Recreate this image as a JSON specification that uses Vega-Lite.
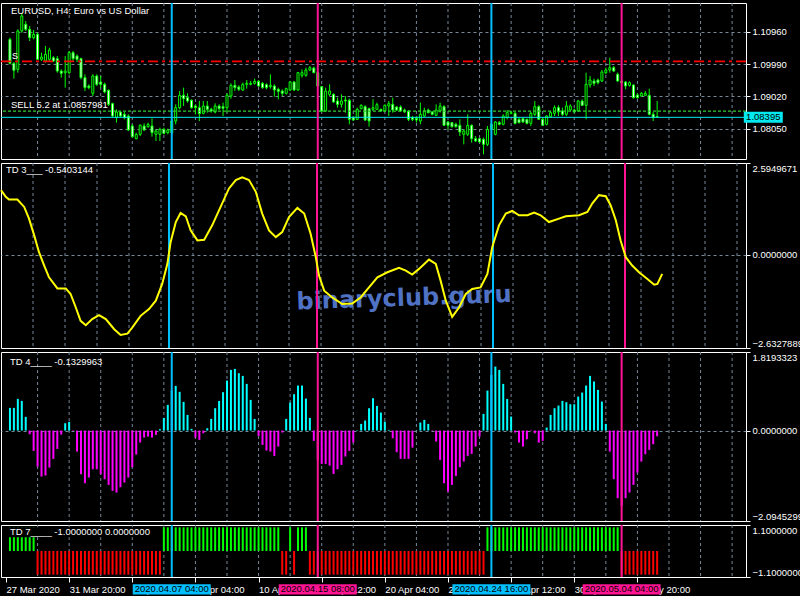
{
"$schema":"https://vega.github.io/schema/vega-lite/v6.json",
"background":"black",
"padding":{"left":-4,"top":1,"right":0,"bottom":0},
"autosize":{"type":"pad"},
"spacing":0,
"config":{
 "concat":{"spacing":0},
 "view":{"stroke":"white","strokeWidth":1},
 "axis":{"labelColor":"white","labelFont":"Liberation Sans","labelFontSize":9.5,"tickColor":"white","gridColor":"#778899","gridDash":[3,3],"gridWidth":1,"domain":false,"zindex":0,"labelOverlap":false,"minExtent":0}
},
"resolve":{"scale":{"x":"independent","y":"independent"},"axis":{"x":"independent","y":"independent"}},
"datasets":{
"grid":[{"g":8},{"g":16},{"g":24},{"g":32},{"g":40},{"g":48},{"g":56},{"g":64},{"g":72},{"g":80},{"g":88},{"g":96},{"g":104},{"g":112},{"g":120},{"g":128},{"g":136},{"g":144},{"g":152},{"g":160},{"g":168},{"g":176},{"g":184}],
"events":[{"i":42,"t":"2020.04.07 04:00","k":"buy"},{"i":79,"t":"2020.04.15 08:00","k":"sell"},{"i":123,"t":"2020.04.24 16:00","k":"buy"},{"i":156,"t":"2020.05.04 04:00","k":"sell"}],
"levels":[{"kind":"stop","price":1.10075},{"kind":"sell","price":1.0857981,"label":"SELL 5.2 at 1.0857981"},{"kind":"bid","price":1.08395}],
"candles":[
{"i":1,"o":1.10735,"h":1.10785,"l":1.09985,"c":1.10015},
{"i":2,"o":1.10015,"h":1.10055,"l":1.09555,"c":1.09805},
{"i":3,"o":1.09835,"h":1.11035,"l":1.09735,"c":1.10985},
{"i":4,"o":1.10985,"h":1.11515,"l":1.10935,"c":1.11435},
{"i":5,"o":1.11185,"h":1.11285,"l":1.10985,"c":1.11035},
{"i":6,"o":1.11035,"h":1.11135,"l":1.10685,"c":1.10785},
{"i":7,"o":1.10785,"h":1.11015,"l":1.10735,"c":1.10885},
{"i":8,"o":1.10885,"h":1.10935,"l":1.10115,"c":1.10135},
{"i":9,"o":1.10135,"h":1.10335,"l":1.10085,"c":1.10205},
{"i":10,"o":1.10085,"h":1.10535,"l":1.10035,"c":1.10285},
{"i":11,"o":1.10135,"h":1.10485,"l":1.10085,"c":1.10415},
{"i":12,"o":1.10185,"h":1.10235,"l":1.10055,"c":1.10085},
{"i":13,"o":1.10155,"h":1.10235,"l":1.09735,"c":1.09785},
{"i":14,"o":1.09785,"h":1.09835,"l":1.09585,"c":1.09715},
{"i":15,"o":1.09735,"h":1.10235,"l":1.09285,"c":1.09785},
{"i":16,"o":1.09735,"h":1.10385,"l":1.09685,"c":1.10335},
{"i":17,"o":1.10335,"h":1.10385,"l":1.10085,"c":1.10155},
{"i":18,"o":1.10235,"h":1.10285,"l":1.10055,"c":1.10135},
{"i":19,"o":1.10155,"h":1.10185,"l":1.09535,"c":1.09585},
{"i":20,"o":1.09585,"h":1.09685,"l":1.09185,"c":1.09285},
{"i":21,"o":1.09335,"h":1.09385,"l":1.09235,"c":1.09285},
{"i":22,"o":1.09115,"h":1.09685,"l":1.09035,"c":1.09635},
{"i":23,"o":1.09635,"h":1.09685,"l":1.09335,"c":1.09385},
{"i":24,"o":1.09455,"h":1.09635,"l":1.09285,"c":1.09385},
{"i":25,"o":1.09385,"h":1.09435,"l":1.09115,"c":1.09155},
{"i":26,"o":1.09205,"h":1.09235,"l":1.08735,"c":1.08785},
{"i":27,"o":1.08805,"h":1.08835,"l":1.08385,"c":1.08435},
{"i":28,"o":1.08385,"h":1.08635,"l":1.08235,"c":1.08555},
{"i":29,"o":1.08555,"h":1.08585,"l":1.08385,"c":1.08435},
{"i":30,"o":1.08485,"h":1.08555,"l":1.08335,"c":1.08385},
{"i":31,"o":1.08435,"h":1.08485,"l":1.07985,"c":1.08015},
{"i":32,"o":1.08135,"h":1.08185,"l":1.07785,"c":1.07815},
{"i":33,"o":1.07755,"h":1.07935,"l":1.07735,"c":1.07885},
{"i":34,"o":1.07885,"h":1.08185,"l":1.07835,"c":1.08155},
{"i":35,"o":1.08135,"h":1.08215,"l":1.07985,"c":1.08015},
{"i":36,"o":1.08115,"h":1.08235,"l":1.08085,"c":1.08185},
{"i":37,"o":1.08135,"h":1.08365,"l":1.07815,"c":1.07935},
{"i":38,"o":1.07885,"h":1.08035,"l":1.07685,"c":1.07985},
{"i":39,"o":1.07885,"h":1.08085,"l":1.07685,"c":1.08035},
{"i":40,"o":1.08035,"h":1.08085,"l":1.07885,"c":1.07915},
{"i":41,"o":1.07935,"h":1.08055,"l":1.07885,"c":1.08015},
{"i":42,"o":1.07935,"h":1.08315,"l":1.07885,"c":1.08285},
{"i":43,"o":1.08285,"h":1.08785,"l":1.08185,"c":1.08685},
{"i":44,"o":1.08685,"h":1.09185,"l":1.08635,"c":1.09055},
{"i":45,"o":1.09055,"h":1.09285,"l":1.08735,"c":1.08955},
{"i":46,"o":1.08985,"h":1.09115,"l":1.08835,"c":1.08885},
{"i":47,"o":1.08905,"h":1.08935,"l":1.08655,"c":1.08685},
{"i":48,"o":1.08735,"h":1.08785,"l":1.08485,"c":1.08685},
{"i":49,"o":1.08685,"h":1.08885,"l":1.08285,"c":1.08505},
{"i":50,"o":1.08515,"h":1.08885,"l":1.08485,"c":1.08735},
{"i":51,"o":1.08735,"h":1.08885,"l":1.08535,"c":1.08635},
{"i":52,"o":1.08635,"h":1.08685,"l":1.08535,"c":1.08585},
{"i":53,"o":1.08555,"h":1.08815,"l":1.08515,"c":1.08735},
{"i":54,"o":1.08735,"h":1.08785,"l":1.08615,"c":1.08655},
{"i":55,"o":1.08715,"h":1.08835,"l":1.08435,"c":1.08665},
{"i":56,"o":1.08685,"h":1.09115,"l":1.08535,"c":1.09055},
{"i":57,"o":1.09035,"h":1.09415,"l":1.08955,"c":1.09355},
{"i":58,"o":1.09355,"h":1.09515,"l":1.09185,"c":1.09285},
{"i":59,"o":1.09305,"h":1.09355,"l":1.09185,"c":1.09235},
{"i":60,"o":1.09215,"h":1.09435,"l":1.09185,"c":1.09385},
{"i":61,"o":1.09385,"h":1.09515,"l":1.09255,"c":1.09415},
{"i":62,"o":1.09385,"h":1.09485,"l":1.09355,"c":1.09415},
{"i":63,"o":1.09415,"h":1.09555,"l":1.09375,"c":1.09475},
{"i":64,"o":1.09475,"h":1.09515,"l":1.09315,"c":1.09335},
{"i":65,"o":1.09415,"h":1.09455,"l":1.09255,"c":1.09285},
{"i":66,"o":1.09375,"h":1.09415,"l":1.09235,"c":1.09285},
{"i":67,"o":1.09315,"h":1.09685,"l":1.09255,"c":1.09355},
{"i":68,"o":1.09335,"h":1.09385,"l":1.09015,"c":1.09215},
{"i":69,"o":1.09235,"h":1.09285,"l":1.08935,"c":1.09175},
{"i":70,"o":1.09185,"h":1.09235,"l":1.09035,"c":1.09115},
{"i":71,"o":1.09115,"h":1.09285,"l":1.09085,"c":1.09255},
{"i":72,"o":1.09215,"h":1.09485,"l":1.09185,"c":1.09455},
{"i":73,"o":1.09455,"h":1.09485,"l":1.09185,"c":1.09215},
{"i":74,"o":1.09215,"h":1.09755,"l":1.09195,"c":1.09735},
{"i":75,"o":1.09655,"h":1.09835,"l":1.09585,"c":1.09735},
{"i":76,"o":1.09655,"h":1.09885,"l":1.09615,"c":1.09815},
{"i":77,"o":1.09815,"h":1.09935,"l":1.09785,"c":1.09885},
{"i":78,"o":1.09875,"h":1.09915,"l":1.09715,"c":1.09735},
{"i":79,"o":1.09735,"h":1.09755,"l":1.09315,"c":1.09335},
{"i":80,"o":1.09315,"h":1.09335,"l":1.08555,"c":1.08585},
{"i":81,"o":1.08585,"h":1.09285,"l":1.08555,"c":1.09185},
{"i":82,"o":1.09085,"h":1.09385,"l":1.09035,"c":1.09185},
{"i":83,"o":1.09085,"h":1.09115,"l":1.08835,"c":1.08855},
{"i":84,"o":1.08885,"h":1.08985,"l":1.08685,"c":1.08785},
{"i":85,"o":1.08785,"h":1.09085,"l":1.08685,"c":1.08885},
{"i":86,"o":1.08915,"h":1.09035,"l":1.08535,"c":1.08885},
{"i":87,"o":1.08905,"h":1.08955,"l":1.08185,"c":1.08335},
{"i":88,"o":1.08385,"h":1.08435,"l":1.08285,"c":1.08315},
{"i":89,"o":1.08335,"h":1.08685,"l":1.08315,"c":1.08635},
{"i":90,"o":1.08655,"h":1.08785,"l":1.08635,"c":1.08755},
{"i":91,"o":1.08715,"h":1.08755,"l":1.08285,"c":1.08315},
{"i":92,"o":1.08655,"h":1.08685,"l":1.08115,"c":1.08285},
{"i":93,"o":1.08635,"h":1.08935,"l":1.08585,"c":1.08685},
{"i":94,"o":1.08635,"h":1.08835,"l":1.08615,"c":1.08775},
{"i":95,"o":1.08635,"h":1.08655,"l":1.08555,"c":1.08585},
{"i":96,"o":1.08585,"h":1.08785,"l":1.08555,"c":1.08755},
{"i":97,"o":1.08735,"h":1.08885,"l":1.08435,"c":1.08805},
{"i":98,"o":1.08785,"h":1.08985,"l":1.08535,"c":1.08615},
{"i":99,"o":1.08705,"h":1.08735,"l":1.08585,"c":1.08615},
{"i":100,"o":1.08705,"h":1.08755,"l":1.08555,"c":1.08585},
{"i":101,"o":1.08615,"h":1.08655,"l":1.08535,"c":1.08555},
{"i":102,"o":1.08585,"h":1.08615,"l":1.08285,"c":1.08335},
{"i":103,"o":1.08385,"h":1.08435,"l":1.08285,"c":1.08335},
{"i":104,"o":1.08365,"h":1.08435,"l":1.08235,"c":1.08315},
{"i":105,"o":1.08285,"h":1.08835,"l":1.08185,"c":1.08485},
{"i":106,"o":1.08435,"h":1.08685,"l":1.08415,"c":1.08585},
{"i":107,"o":1.08615,"h":1.08655,"l":1.08515,"c":1.08535},
{"i":108,"o":1.08555,"h":1.08585,"l":1.08455,"c":1.08485},
{"i":109,"o":1.08455,"h":1.08785,"l":1.08435,"c":1.08615},
{"i":110,"o":1.08585,"h":1.08835,"l":1.08535,"c":1.08735},
{"i":111,"o":1.08715,"h":1.08755,"l":1.08135,"c":1.08155},
{"i":112,"o":1.08255,"h":1.08285,"l":1.08035,"c":1.08155},
{"i":113,"o":1.08235,"h":1.08255,"l":1.08085,"c":1.08115},
{"i":114,"o":1.08185,"h":1.08235,"l":1.08085,"c":1.08115},
{"i":115,"o":1.08155,"h":1.08335,"l":1.07835,"c":1.07955},
{"i":116,"o":1.07885,"h":1.08035,"l":1.07585,"c":1.07985},
{"i":117,"o":1.07885,"h":1.08485,"l":1.07835,"c":1.08155},
{"i":118,"o":1.08155,"h":1.08185,"l":1.07635,"c":1.07755},
{"i":119,"o":1.07755,"h":1.07835,"l":1.07655,"c":1.07685},
{"i":120,"o":1.07755,"h":1.07785,"l":1.07635,"c":1.07655},
{"i":121,"o":1.07735,"h":1.07785,"l":1.07285,"c":1.07585},
{"i":122,"o":1.07585,"h":1.08135,"l":1.07535,"c":1.08035},
{"i":123,"o":1.08035,"h":1.08235,"l":1.07985,"c":1.08185},
{"i":124,"o":1.07885,"h":1.08285,"l":1.07855,"c":1.08255},
{"i":125,"o":1.08235,"h":1.08285,"l":1.08155,"c":1.08185},
{"i":126,"o":1.08185,"h":1.08485,"l":1.08155,"c":1.08435},
{"i":127,"o":1.08385,"h":1.08615,"l":1.08335,"c":1.08535},
{"i":128,"o":1.08515,"h":1.08585,"l":1.08485,"c":1.08535},
{"i":129,"o":1.08515,"h":1.08555,"l":1.08185,"c":1.08215},
{"i":130,"o":1.08335,"h":1.08385,"l":1.08215,"c":1.08235},
{"i":131,"o":1.08355,"h":1.08385,"l":1.08235,"c":1.08255},
{"i":132,"o":1.08335,"h":1.08355,"l":1.08185,"c":1.08215},
{"i":133,"o":1.08215,"h":1.08555,"l":1.08135,"c":1.08515},
{"i":134,"o":1.08485,"h":1.08885,"l":1.08435,"c":1.08715},
{"i":135,"o":1.08715,"h":1.08755,"l":1.08315,"c":1.08335},
{"i":136,"o":1.08335,"h":1.08385,"l":1.08135,"c":1.08155},
{"i":137,"o":1.08185,"h":1.08455,"l":1.08155,"c":1.08435},
{"i":138,"o":1.08415,"h":1.08585,"l":1.08385,"c":1.08535},
{"i":139,"o":1.08515,"h":1.08755,"l":1.08435,"c":1.08685},
{"i":140,"o":1.08685,"h":1.08755,"l":1.08435,"c":1.08555},
{"i":141,"o":1.08585,"h":1.08685,"l":1.08435,"c":1.08485},
{"i":142,"o":1.08485,"h":1.08885,"l":1.08435,"c":1.08735},
{"i":143,"o":1.08615,"h":1.08785,"l":1.08585,"c":1.08735},
{"i":144,"o":1.08615,"h":1.08655,"l":1.08535,"c":1.08555},
{"i":145,"o":1.08585,"h":1.08915,"l":1.08555,"c":1.08885},
{"i":146,"o":1.08885,"h":1.08935,"l":1.08735,"c":1.08755},
{"i":147,"o":1.08755,"h":1.09735,"l":1.08335,"c":1.09385},
{"i":148,"o":1.09365,"h":1.09635,"l":1.09285,"c":1.09515},
{"i":149,"o":1.09485,"h":1.09555,"l":1.09335,"c":1.09415},
{"i":150,"o":1.09515,"h":1.09555,"l":1.09385,"c":1.09435},
{"i":151,"o":1.09485,"h":1.09815,"l":1.09455,"c":1.09755},
{"i":152,"o":1.09735,"h":1.09885,"l":1.09685,"c":1.09815},
{"i":153,"o":1.09815,"h":1.10185,"l":1.09735,"c":1.09885},
{"i":154,"o":1.09885,"h":1.09935,"l":1.09755,"c":1.09785},
{"i":155,"o":1.09685,"h":1.09735,"l":1.09455,"c":1.09485},
{"i":156,"o":1.09485,"h":1.09515,"l":1.09385,"c":1.09435},
{"i":157,"o":1.09455,"h":1.09485,"l":1.09235,"c":1.09335},
{"i":158,"o":1.09355,"h":1.09475,"l":1.09315,"c":1.09435},
{"i":159,"o":1.09365,"h":1.09385,"l":1.08955,"c":1.08985},
{"i":160,"o":1.09065,"h":1.09115,"l":1.08955,"c":1.08985},
{"i":161,"o":1.09035,"h":1.09155,"l":1.09015,"c":1.09115},
{"i":162,"o":1.09055,"h":1.09185,"l":1.09035,"c":1.09115},
{"i":163,"o":1.09055,"h":1.09255,"l":1.08455,"c":1.08485},
{"i":164,"o":1.08485,"h":1.08555,"l":1.08285,"c":1.08385},
{"i":165,"o":1.08415,"h":1.08885,"l":1.08385,"c":1.08395}
],
"td3":[
{"i":0,"v":1.828},{"i":1.2,"v":1.638},{"i":2,"v":1.564},{"i":4.1,"v":1.564},{"i":5.8,"v":1.353},{"i":7,"v":1.024},{"i":8.3,"v":0.549},{"i":9.5,"v":0.075},{"i":10.8,"v":-0.303},{"i":12,"v":-0.635},{"i":14.1,"v":-0.948},{"i":16.2,"v":-0.948},{"i":17.4,"v":-1.107},{"i":18.7,"v":-1.488},{"i":19.9,"v":-1.866},{"i":21.2,"v":-1.988},{"i":22.8,"v":-1.817},{"i":24.5,"v":-1.704},{"i":26.2,"v":-1.817},{"i":28.3,"v":-2.102},{"i":29.9,"v":-2.263},{"i":31.6,"v":-2.227},{"i":32.8,"v":-2.056},{"i":34.9,"v":-1.724},{"i":37,"v":-1.533},{"i":38.7,"v":-1.297},{"i":40.3,"v":-0.823},{"i":41.6,"v":-0.255},{"i":42.4,"v":0.359},{"i":43.7,"v":0.927},{"i":44.9,"v":1.183},{"i":46.2,"v":1.089},{"i":47.4,"v":0.691},{"i":49.1,"v":0.407},{"i":50.8,"v":0.427},{"i":52.8,"v":0.833},{"i":54.9,"v":1.353},{"i":57,"v":1.876},{"i":58.7,"v":2.112},{"i":60.3,"v":2.189},{"i":62,"v":2.112},{"i":63.7,"v":1.78},{"i":65.3,"v":1.166},{"i":67,"v":0.691},{"i":68.7,"v":0.501},{"i":70.3,"v":0.643},{"i":72,"v":1.069},{"i":74.1,"v":1.325},{"i":75.8,"v":1.166},{"i":77.4,"v":0.598},{"i":78.7,"v":-0.067},{"i":79.5,"v":-0.587},{"i":80.8,"v":-1.013},{"i":82.8,"v":-1.204},{"i":85.3,"v":-1.391},{"i":87.8,"v":-1.374},{"i":89.9,"v":-1.204},{"i":92,"v":-0.92},{"i":94.1,"v":-0.635},{"i":96.6,"v":-0.493},{"i":99.5,"v":-0.368},{"i":101.2,"v":-0.445},{"i":102.8,"v":-0.559},{"i":104.5,"v":-0.397},{"i":107,"v":-0.133},{"i":108.7,"v":-0.255},{"i":109.9,"v":-0.729},{"i":111.2,"v":-1.297},{"i":112.8,"v":-1.752},{"i":114.5,"v":-1.488},{"i":116.2,"v":-1.107},{"i":117.8,"v":-0.965},{"i":119.9,"v":-0.92},{"i":121.6,"v":-0.539},{"i":122.8,"v":0.217},{"i":124.5,"v":0.833},{"i":126.2,"v":1.166},{"i":127.8,"v":1.24},{"i":129.5,"v":1.118},{"i":131.6,"v":1.118},{"i":133.3,"v":1.194},{"i":134.9,"v":1.118},{"i":137,"v":0.927},{"i":139.5,"v":1.024},{"i":141.2,"v":1.089},{"i":144.5,"v":1.118},{"i":146.6,"v":1.211},{"i":147.8,"v":1.45},{"i":149.5,"v":1.686},{"i":151.2,"v":1.657},{"i":152.4,"v":1.402},{"i":153.7,"v":0.976},{"i":154.9,"v":0.407},{"i":156.2,"v":-0.067},{"i":157.8,"v":-0.303},{"i":159.5,"v":-0.493},{"i":161.6,"v":-0.681},{"i":163.3,"v":-0.843},{"i":164.1,"v":-0.823},{"i":165.3,"v":-0.54}
],
"td4":[
{"i":1,"v":0.525},{"i":2,"v":0.525},{"i":3,"v":0.733},{"i":4,"v":0.687},{"i":5,"v":0.317},{"i":6,"v":-0.085},{"i":7,"v":-0.471},{"i":8,"v":-0.834},{"i":9,"v":-1.065},{"i":10,"v":-1.042},{"i":11,"v":-0.857},{"i":12,"v":-0.656},{"i":13,"v":-0.425},{"i":14,"v":-0.093},{"i":15,"v":0.17},{"i":16,"v":0.201},{"i":17,"v":-0.01},{"i":18,"v":-0.486},{"i":19,"v":-1.011},{"i":20,"v":-1.22},{"i":21,"v":-1.089},{"i":22,"v":-0.896},{"i":23,"v":-0.896},{"i":24,"v":-1.011},{"i":25,"v":-1.127},{"i":26,"v":-1.258},{"i":27,"v":-1.397},{"i":28,"v":-1.436},{"i":29,"v":-1.312},{"i":30,"v":-1.204},{"i":31,"v":-1.089},{"i":32,"v":-0.849},{"i":33,"v":-0.556},{"i":34,"v":-0.278},{"i":35,"v":-0.162},{"i":36,"v":-0.139},{"i":37,"v":-0.162},{"i":38,"v":-0.1},{"i":39,"v":0.031},{"i":40,"v":0.293},{"i":41,"v":0.594},{"i":42,"v":0.926},{"i":43,"v":1.034},{"i":44,"v":0.896},{"i":45,"v":0.664},{"i":46,"v":0.363},{"i":47,"v":0.039},{"i":48,"v":-0.162},{"i":49,"v":-0.216},{"i":50,"v":-0.062},{"i":51,"v":0.054},{"i":52,"v":0.27},{"i":53,"v":0.517},{"i":54,"v":0.687},{"i":55,"v":0.888},{"i":56,"v":1.158},{"i":57,"v":1.405},{"i":58,"v":1.428},{"i":59,"v":1.328},{"i":60,"v":1.266},{"i":61,"v":1.081},{"i":62,"v":0.71},{"i":63,"v":0.27},{"i":64,"v":-0.124},{"i":65,"v":-0.332},{"i":66,"v":-0.463},{"i":67,"v":-0.486},{"i":68,"v":-0.587},{"i":69,"v":-0.371},{"i":70,"v":-0.046},{"i":71,"v":0.27},{"i":72,"v":0.648},{"i":73,"v":0.841},{"i":74,"v":1.042},{"i":75,"v":1.042},{"i":76,"v":0.741},{"i":77,"v":0.293},{"i":78,"v":-0.239},{"i":79,"v":-0.679},{"i":80,"v":-0.772},{"i":81,"v":-0.772},{"i":82,"v":-0.811},{"i":83,"v":-1.004},{"i":84,"v":-0.896},{"i":85,"v":-0.795},{"i":86,"v":-0.602},{"i":87,"v":-0.471},{"i":88,"v":-0.278},{"i":89,"v":0.01},{"i":90,"v":0.154},{"i":91,"v":0.232},{"i":92,"v":0.517},{"i":93,"v":0.749},{"i":94,"v":0.571},{"i":95,"v":0.417},{"i":96,"v":0.208},{"i":97,"v":0.015},{"i":98,"v":-0.178},{"i":99,"v":-0.502},{"i":100,"v":-0.656},{"i":101,"v":-0.656},{"i":102,"v":-0.656},{"i":103,"v":-0.394},{"i":104,"v":0.005},{"i":105,"v":0.185},{"i":106,"v":0.247},{"i":107,"v":0.154},{"i":108,"v":-0.01},{"i":109,"v":-0.255},{"i":110,"v":-0.679},{"i":111,"v":-1.22},{"i":112,"v":-1.413},{"i":113,"v":-1.258},{"i":114,"v":-1.05},{"i":115,"v":-0.849},{"i":116,"v":-0.718},{"i":117,"v":-0.587},{"i":118,"v":-0.54},{"i":119,"v":-0.371},{"i":120,"v":-0.139},{"i":121,"v":0.386},{"i":122,"v":0.926},{"i":123,"v":1.289},{"i":124,"v":1.482},{"i":125,"v":1.405},{"i":126,"v":1.081},{"i":127,"v":0.733},{"i":128,"v":0.324},{"i":129,"v":-0.046},{"i":130,"v":-0.278},{"i":131,"v":-0.371},{"i":132,"v":-0.201},{"i":133,"v":-0.01},{"i":134,"v":-0.062},{"i":135,"v":-0.278},{"i":136,"v":-0.239},{"i":137,"v":0.069},{"i":138,"v":0.363},{"i":139,"v":0.517},{"i":140,"v":0.579},{"i":141,"v":0.687},{"i":142,"v":0.656},{"i":143,"v":0.61},{"i":144,"v":0.61},{"i":145,"v":0.787},{"i":146,"v":0.88},{"i":147,"v":1.042},{"i":148,"v":1.266},{"i":149,"v":1.135},{"i":150,"v":0.942},{"i":151,"v":0.672},{"i":152,"v":0.154},{"i":153,"v":-0.486},{"i":154,"v":-1.127},{"i":155,"v":-1.567},{"i":156,"v":-1.745},{"i":157,"v":-1.567},{"i":158,"v":-1.436},{"i":159,"v":-1.258},{"i":160,"v":-0.973},{"i":161,"v":-0.718},{"i":162,"v":-0.548},{"i":163,"v":-0.448},{"i":164,"v":-0.317},{"i":165,"v":-0.133}
],
"td7":[
{"i":1,"v":1},{"i":2,"v":1},{"i":3,"v":1},{"i":4,"v":1},{"i":5,"v":1},{"i":6,"v":1},{"i":7,"v":1},
{"i":8,"v":-1},{"i":9,"v":-1},{"i":10,"v":-1},{"i":11,"v":-1},{"i":12,"v":-1},{"i":13,"v":-1},{"i":14,"v":-1},{"i":15,"v":-1},{"i":16,"v":-1},{"i":17,"v":-1},{"i":18,"v":-1},{"i":19,"v":-1},{"i":20,"v":-1},{"i":21,"v":-1},{"i":22,"v":-1},{"i":23,"v":-1},{"i":24,"v":-1},{"i":25,"v":-1},{"i":26,"v":-1},{"i":27,"v":-1},{"i":28,"v":-1},{"i":29,"v":-1},{"i":30,"v":-1},{"i":31,"v":-1},{"i":32,"v":-1},{"i":33,"v":-1},{"i":34,"v":-1},{"i":35,"v":-1},{"i":36,"v":-1},{"i":37,"v":-1},{"i":38,"v":-1},{"i":39,"v":-1},
{"i":40,"v":1},{"i":41,"v":1},{"i":42,"v":1},{"i":43,"v":1},{"i":44,"v":1},{"i":45,"v":1},{"i":46,"v":1},{"i":47,"v":1},{"i":48,"v":1},{"i":49,"v":1},{"i":50,"v":1},{"i":51,"v":1},{"i":52,"v":1},{"i":53,"v":1},{"i":54,"v":1},{"i":55,"v":1},{"i":56,"v":1},{"i":57,"v":1},{"i":58,"v":1},{"i":59,"v":1},{"i":60,"v":1},{"i":61,"v":1},{"i":62,"v":1},{"i":63,"v":1},{"i":64,"v":1},{"i":65,"v":1},{"i":66,"v":1},{"i":67,"v":1},{"i":68,"v":1},{"i":69,"v":1},
{"i":70,"v":-1},{"i":71,"v":-1},{"i":72,"v":1},{"i":73,"v":-1},{"i":74,"v":1},{"i":75,"v":1},{"i":76,"v":1},
{"i":77,"v":-1},{"i":78,"v":-1},{"i":79,"v":-1},{"i":80,"v":-1},{"i":81,"v":-1},{"i":82,"v":-1},{"i":83,"v":-1},{"i":84,"v":-1},{"i":85,"v":-1},{"i":86,"v":-1},{"i":87,"v":-1},{"i":88,"v":-1},{"i":89,"v":-1},{"i":90,"v":-1},{"i":91,"v":-1},{"i":92,"v":-1},{"i":93,"v":-1},{"i":94,"v":-1},{"i":95,"v":-1},{"i":96,"v":-1},{"i":97,"v":-1},{"i":98,"v":-1},{"i":99,"v":-1},{"i":100,"v":-1},{"i":101,"v":-1},{"i":102,"v":-1},{"i":103,"v":-1},{"i":104,"v":-1},{"i":105,"v":-1},{"i":106,"v":-1},{"i":107,"v":-1},{"i":108,"v":-1},{"i":109,"v":-1},{"i":110,"v":-1},{"i":111,"v":-1},{"i":112,"v":-1},{"i":113,"v":-1},{"i":114,"v":-1},{"i":115,"v":-1},{"i":116,"v":-1},{"i":117,"v":-1},{"i":118,"v":-1},{"i":119,"v":-1},{"i":120,"v":-1},{"i":121,"v":-1},
{"i":122,"v":1},{"i":123,"v":1},{"i":124,"v":1},{"i":125,"v":1},{"i":126,"v":1},{"i":127,"v":1},{"i":128,"v":1},{"i":129,"v":1},{"i":130,"v":1},{"i":131,"v":1},{"i":132,"v":1},{"i":133,"v":1},{"i":134,"v":1},{"i":135,"v":1},{"i":136,"v":1},{"i":137,"v":1},{"i":138,"v":1},{"i":139,"v":1},{"i":140,"v":1},{"i":141,"v":1},{"i":142,"v":1},{"i":143,"v":1},{"i":144,"v":1},{"i":145,"v":1},{"i":146,"v":1},{"i":147,"v":1},{"i":148,"v":1},{"i":149,"v":1},{"i":150,"v":1},{"i":151,"v":1},{"i":152,"v":1},{"i":153,"v":1},{"i":154,"v":1},{"i":155,"v":1},
{"i":156,"v":-1},{"i":157,"v":-1},{"i":158,"v":-1},{"i":159,"v":-1},{"i":160,"v":-1},{"i":161,"v":-1},{"i":162,"v":-1},{"i":163,"v":-1},{"i":164,"v":-1},{"i":165,"v":-1}
]
},
"vconcat":[
{
 "width":745,"height":156,
 "layer":[
  {"data":{"name":"grid"},"mark":{"type":"rule","color":"#778899","strokeWidth":1,"strokeDash":[3,3]},
   "encoding":{
    "x":{"field":"g","type":"quantitative","scale":{"domain":[0,186.25],"nice":false,"zero":false},"axis":null}}},
  {"data":{"name":"candles"},"mark":{"type":"rule","color":"#00ff00","strokeWidth":1},
   "encoding":{
    "x":{"field":"i","type":"quantitative"},
    "y":{"field":"l","type":"quantitative","scale":{"domain":[1.07145,1.11825],"nice":false,"zero":false},"axis":{"orient":"right","values":[1.0805,1.0902,1.0999,1.1096],"format":".5f","grid":true,"tickSize":4,"labelPadding":2,"labelFlush":false,"title":null}},
    "y2":{"field":"h"}}},
  {"data":{"name":"candles"},"mark":{"type":"bar","size":2,"stroke":"#00ff00","strokeWidth":1},
   "encoding":{
    "x":{"field":"i","type":"quantitative"},
    "y":{"field":"o","type":"quantitative"},
    "y2":{"field":"c"},
    "fill":{"condition":{"test":"datum.c > datum.o","value":"#000000"},"value":"#ffffff"}}},
  {"data":{"name":"levels"},"mark":{"type":"rule"},
   "encoding":{
    "y":{"field":"price","type":"quantitative"},
    "color":{"condition":[{"test":"datum.kind === 'stop'","value":"#ff0000"},{"test":"datum.kind === 'sell'","value":"#32cd32"}],"value":"#00e8f0"},
    "strokeWidth":{"condition":[{"test":"datum.kind === 'stop'","value":1.6},{"test":"datum.kind === 'sell'","value":1.3}],"value":1},
    "strokeDash":{"condition":[{"test":"datum.kind === 'stop'","value":[10,4,3,4]},{"test":"datum.kind === 'sell'","value":[3,2]}],"value":[1,0]}}},
  {"data":{"name":"events"},"mark":{"type":"rule","strokeWidth":2},
   "encoding":{
    "x":{"field":"i","type":"quantitative"},
    "color":{"condition":{"test":"datum.k === 'buy'","value":"#00bfff"},"value":"#ff1493"}}},
  {"data":{"name":"levels"},"transform":[{"filter":"datum.kind === 'sell'"}],
   "mark":{"type":"text","align":"left","baseline":"bottom","font":"Liberation Sans","fontSize":9.5,"color":"white"},
   "encoding":{"text":{"field":"label"},"x":{"datum":1.25,"type":"quantitative"},"y":{"datum":1.0861,"type":"quantitative"}}},
  {"data":{"name":"levels"},"transform":[{"filter":"datum.kind === 'bid'"}],
   "mark":{"type":"point","shape":"M-1,-0.28H1V0.28H-1Z","filled":true,"size":1521,"color":"#00e8f0","opacity":1,"strokeWidth":0},
   "encoding":{"x":{"datum":191.9,"type":"quantitative"},"y":{"field":"price","type":"quantitative"}}},
  {"data":{"name":"levels"},"transform":[{"filter":"datum.kind === 'bid'"}],
   "mark":{"type":"text","align":"center","baseline":"middle","font":"Liberation Sans","fontSize":9.5,"color":"black"},
   "encoding":{"text":{"field":"price","type":"quantitative","format":".5f"},"x":{"datum":191.9,"type":"quantitative"},"y":{"field":"price","type":"quantitative"}}},
  {"data":{"values":[{"t":"EURUSD, H4:  Euro vs US Dollar"}]},
   "mark":{"type":"text","align":"left","baseline":"middle","font":"Liberation Sans","fontSize":9.5,"color":"white"},
   "encoding":{"text":{"field":"t"},"x":{"datum":1.25,"type":"quantitative"},"y":{"datum":1.11585,"type":"quantitative"}}},
  {"data":{"values":[{"t":"S","price":1.10235}]},
   "mark":{"type":"text","align":"left","baseline":"middle","font":"Liberation Sans","fontSize":9,"color":"white"},
   "encoding":{"text":{"field":"t"},"x":{"datum":1.5,"type":"quantitative"},"y":{"field":"price","type":"quantitative"}}}
 ]
},
{
 "width":745,"height":185,
 "layer":[
  {"data":{"name":"grid"},"mark":{"type":"rule","color":"#778899","strokeWidth":1,"strokeDash":[3,3]},
   "encoding":{
    "x":{"field":"g","type":"quantitative","scale":{"domain":[0,186.25],"nice":false,"zero":false},"axis":null}}},
  {"data":{"values":[{"t":"binaryclub.guru"}]},
   "mark":{"type":"text","align":"center","baseline":"middle","font":"DejaVu Sans","fontWeight":"bold","fontSize":24,"color":"#4f72c4","angle":358},
   "encoding":{
    "text":{"field":"t"},
    "x":{"datum":100.75,"type":"quantitative"},
    "y":{"datum":-1.2406,"type":"quantitative","scale":{"domain":[-2.6327889,2.5949671],"nice":false,"zero":false},"axis":{"orient":"right","values":[-2.6327889,0,2.5949671],"format":".7f","grid":true,"gridOpacity":{"condition":{"test":"datum.value === 0","value":1},"value":0},"tickSize":4,"labelPadding":2,"labelFlush":true,"title":null}}}},
  {"data":{"name":"events"},"mark":{"type":"rule","strokeWidth":2},
   "encoding":{
    "x":{"field":"i","type":"quantitative"},
    "color":{"condition":{"test":"datum.k === 'buy'","value":"#00bfff"},"value":"#ff1493"}}},
  {"data":{"name":"td3"},"mark":{"type":"line","color":"#ffff00","strokeWidth":2},
   "encoding":{"x":{"field":"i","type":"quantitative"},"y":{"field":"v","type":"quantitative"}}},
  {"data":{"values":[{"t":"TD 3___ -0.5403144"}]},
   "mark":{"type":"text","align":"left","baseline":"middle","font":"Liberation Sans","fontSize":9.5,"color":"white"},
   "encoding":{"text":{"field":"t"},"x":{"datum":1.25,"type":"quantitative"},"y":{"datum":2.396,"type":"quantitative"}}}
 ]
},
{
 "width":745,"height":169,
 "layer":[
  {"data":{"name":"grid"},"mark":{"type":"rule","color":"#778899","strokeWidth":1,"strokeDash":[3,3]},
   "encoding":{
    "x":{"field":"g","type":"quantitative","scale":{"domain":[0,186.25],"nice":false,"zero":false},"axis":null}}},
  {"data":{"name":"td4"},"mark":{"type":"bar","size":2},
   "encoding":{
    "x":{"field":"i","type":"quantitative"},
    "y":{"field":"v","type":"quantitative","scale":{"domain":[-2.0945299,1.8193323],"nice":false,"zero":false},"axis":{"orient":"right","values":[-2.0945299,0,1.8193323],"format":".7f","grid":true,"gridOpacity":{"condition":{"test":"datum.value === 0","value":1},"value":0},"tickSize":4,"labelPadding":2,"labelFlush":true,"title":null}},
    "y2":{"datum":0},
    "color":{"condition":{"test":"datum.v >= 0","value":"#00ffff"},"value":"#ff00ff"}}},
  {"data":{"name":"events"},"mark":{"type":"rule","strokeWidth":2},
   "encoding":{
    "x":{"field":"i","type":"quantitative"},
    "color":{"condition":{"test":"datum.k === 'buy'","value":"#00bfff"},"value":"#ff1493"}}},
  {"data":{"values":[{"t":"TD 4____ -0.1329963"}]},
   "mark":{"type":"text","align":"left","baseline":"middle","font":"Liberation Sans","fontSize":9.5,"color":"white"},
   "encoding":{"text":{"field":"t"},"x":{"datum":1.0,"type":"quantitative"},"y":{"datum":1.588,"type":"quantitative"}}}
 ]
},
{
 "width":745,"height":52,
 "layer":[
  {"data":{"name":"grid"},"mark":{"type":"rule","color":"#778899","strokeWidth":1,"strokeDash":[3,3]},
   "encoding":{
    "x":{"field":"g","type":"quantitative","scale":{"domain":[0,186.25],"nice":false,"zero":false},
     "axis":{"values":[0,16,32,48,64,80,96,112,128,144,160],"grid":false,"ticks":true,"tickSize":5,"labelExpr":"['27 Mar 2020','31 Mar 20:00','3 Apr 12:00','8 Apr 04:00','10 Apr 20:00','15 Apr 12:00','20 Apr 04:00','22 Apr 20:00','27 Apr 12:00','30 Apr 04:00','4 May 20:00'][datum.value / 16]","labelAlign":"left","labelBaseline":"top","labelPadding":2,"labelFlush":false,"labelBound":false,"labelOverlap":false,"domain":false,"title":null}}}},
  {"data":{"name":"td7"},"mark":{"type":"bar","size":2},
   "encoding":{
    "x":{"field":"i","type":"quantitative"},
    "y":{"field":"v","type":"quantitative","scale":{"domain":[-1.1,1.1],"nice":false,"zero":false},"axis":{"orient":"right","values":[-1.1,0,1.1],"format":".7f","grid":true,"gridOpacity":{"condition":{"test":"datum.value === 0","value":1},"value":0},"tickSize":4,"labelPadding":2,"labelFlush":true,"title":null}},
    "y2":{"datum":0},
    "color":{"condition":{"test":"datum.v > 0","value":"#00ff00"},"value":"#ff0000"}}},
  {"data":{"name":"events"},"mark":{"type":"rule","strokeWidth":2},
   "encoding":{
    "x":{"field":"i","type":"quantitative"},
    "color":{"condition":{"test":"datum.k === 'buy'","value":"#00bfff"},"value":"#ff1493"}}},
  {"data":{"values":[{"t":"TD 7____ -1.0000000 0.0000000"}]},
   "mark":{"type":"point","shape":"M-1,-0.072H1V0.072H-1Z","filled":true,"size":19321,"color":"black","opacity":1,"strokeWidth":0},
   "encoding":{"x":{"datum":17.75,"type":"quantitative"},"y":{"datum":0.798,"type":"quantitative"}}},
  {"data":{"values":[{"t":"TD 7____ -1.0000000 0.0000000"}]},
   "mark":{"type":"text","align":"left","baseline":"middle","font":"Liberation Sans","fontSize":9.5,"color":"white"},
   "encoding":{"text":{"field":"t"},"x":{"datum":1.0,"type":"quantitative"},"y":{"datum":0.798,"type":"quantitative"}}},
  {"data":{"name":"events"},
   "mark":{"type":"point","shape":"M-1,-0.132H1V0.132H-1Z","filled":true,"size":6084,"opacity":1,"strokeWidth":0},
   "encoding":{
    "x":{"field":"i","type":"quantitative"},
    "y":{"datum":-1.626,"type":"quantitative"},
    "color":{"condition":{"test":"datum.k === 'buy'","value":"#00bfff"},"value":"#ff1493"}}},
  {"data":{"name":"events"},
   "mark":{"type":"text","align":"center","baseline":"middle","font":"Liberation Sans","fontSize":9.5,"color":"black"},
   "encoding":{"text":{"field":"t"},"x":{"field":"i","type":"quantitative"},"y":{"datum":-1.626,"type":"quantitative"}}}
 ]
}
]
}
